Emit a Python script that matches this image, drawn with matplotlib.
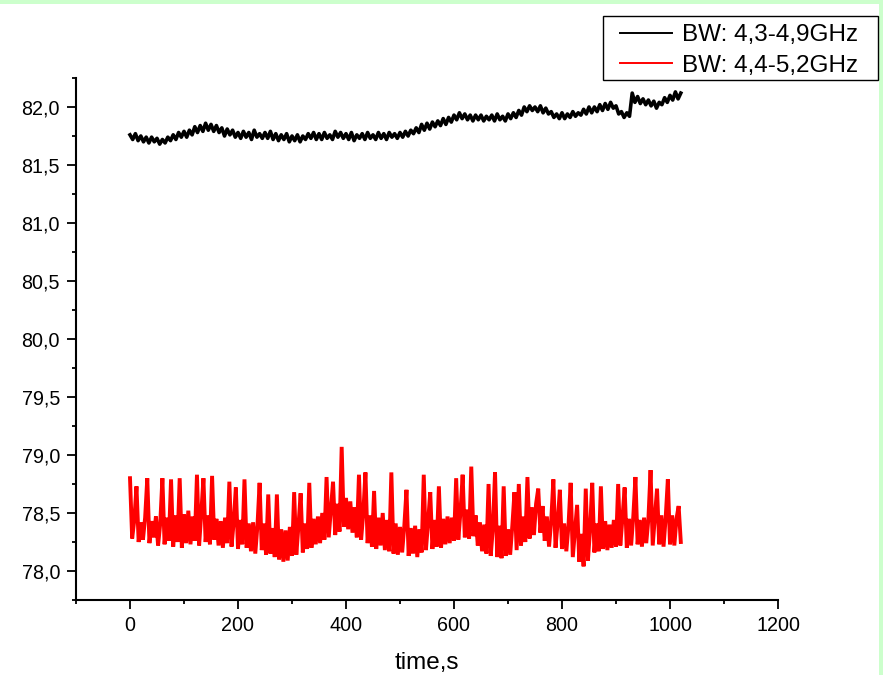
import numpy as np
import matplotlib
matplotlib.use("Agg")
import matplotlib.pyplot as plt
from matplotlib.ticker import MultipleLocator, FuncFormatter
from matplotlib.patches import Rectangle
from matplotlib.lines import Line2D

plt.rcParams['font.family'] = ['Liberation Sans', 'DejaVu Sans']

# ---- data ----
series_labels = ["BW: 4,3-4,9GHz", "BW: 4,4-5,2GHz"]
t_end = 1020  # s

# black series, one sample every 5 s (0..1020 s)
bw1_values = [
    81.76, 81.72, 81.77, 81.71, 81.75, 81.70, 81.74, 81.69, 81.74, 81.70,
    81.73, 81.68, 81.72, 81.69, 81.74, 81.71, 81.76, 81.72, 81.78, 81.74,
    81.79, 81.74, 81.80, 81.76, 81.83, 81.78, 81.84, 81.79, 81.86, 81.80,
    81.85, 81.79, 81.84, 81.78, 81.82, 81.75, 81.81, 81.76, 81.80, 81.74,
    81.78, 81.73, 81.79, 81.74, 81.78, 81.72, 81.80, 81.74, 81.77, 81.73,
    81.78, 81.73, 81.79, 81.72, 81.77, 81.71, 81.76, 81.72, 81.77, 81.70,
    81.75, 81.71, 81.76, 81.70, 81.75, 81.72, 81.77, 81.73, 81.78, 81.72,
    81.77, 81.72, 81.78, 81.73, 81.76, 81.72, 81.79, 81.74, 81.78, 81.73,
    81.77, 81.72, 81.78, 81.71, 81.76, 81.73, 81.77, 81.72, 81.78, 81.73,
    81.76, 81.72, 81.78, 81.73, 81.77, 81.72, 81.78, 81.74, 81.77, 81.73,
    81.78, 81.74, 81.79, 81.75, 81.80, 81.77, 81.82, 81.78, 81.85, 81.80,
    81.86, 81.81, 81.87, 81.83, 81.88, 81.84, 81.90, 81.85, 81.91, 81.87,
    81.93, 81.89, 81.95, 81.90, 81.94, 81.89, 81.93, 81.88, 81.93, 81.89,
    81.93, 81.88, 81.92, 81.89, 81.93, 81.88, 81.94, 81.89, 81.92, 81.88,
    81.94, 81.90, 81.95, 81.91, 81.97, 81.93, 82.00, 81.96, 82.01, 81.97,
    82.00, 81.96, 82.01, 81.95, 81.99, 81.94, 81.96, 81.91, 81.94, 81.90,
    81.95, 81.90, 81.94, 81.91, 81.96, 81.92, 81.95, 81.93, 81.98, 81.94,
    82.00, 81.95, 82.00, 81.96, 82.02, 81.97, 82.03, 81.98, 82.04, 81.99,
    82.01, 81.94, 81.96, 81.91, 81.95, 81.92, 82.12, 82.04, 82.09, 82.03,
    82.07, 82.02, 82.06, 82.01, 82.05, 81.99, 82.04, 82.02, 82.08, 82.04,
    82.10, 82.06, 82.13, 82.07, 82.12,
]

# red series, one sample every 4 s (0..1020 s)
bw2_values = [
    78.80, 78.28, 78.44, 78.73, 78.25, 78.42, 78.27, 78.46,
    78.80, 78.24, 78.43, 78.29, 78.47, 78.22, 78.41, 78.80,
    78.23, 78.46, 78.26, 78.79, 78.21, 78.48, 78.25, 78.80,
    78.20, 78.49, 78.24, 78.52, 78.23, 78.47, 78.26, 78.83,
    78.22, 78.50, 78.80, 78.25, 78.48, 78.23, 78.82, 78.27,
    78.45, 78.22, 78.43, 78.20, 78.46, 78.24, 78.77, 78.21,
    78.42, 78.72, 78.19, 78.44, 78.23, 78.79, 78.20, 78.41,
    78.17, 78.42, 78.15, 78.39, 78.76, 78.18, 78.41, 78.14,
    78.66, 78.15, 78.37, 78.12, 78.66, 78.10, 78.36, 78.08,
    78.35, 78.09, 78.38, 78.13, 78.68, 78.14, 78.39, 78.67,
    78.16, 78.41, 78.19, 78.76, 78.20, 78.45, 78.23, 78.47,
    78.24, 78.50, 78.27, 78.81, 78.29, 78.53, 78.77, 78.31,
    78.58, 78.34, 79.07, 78.38, 78.63, 78.36, 78.60, 78.33,
    78.55, 78.29, 78.83, 78.27, 78.50, 78.85, 78.24, 78.48,
    78.21, 78.69, 78.19, 78.46, 78.22, 78.50, 78.18, 78.44,
    78.17, 78.85, 78.15, 78.41, 78.14, 78.38, 78.16, 78.39,
    78.70, 78.13, 78.37, 78.15, 78.39, 78.12, 78.36, 78.16,
    78.83, 78.18, 78.42, 78.68, 78.19, 78.44, 78.21, 78.73,
    78.20, 78.45, 78.23, 78.47, 78.24, 78.46, 78.26, 78.80,
    78.27, 78.51, 78.83, 78.29, 78.53, 78.28, 78.90, 78.30,
    78.48, 78.22, 78.42, 78.17, 78.40, 78.15, 78.75, 78.13,
    78.37, 78.85, 78.12, 78.39, 78.11, 78.73, 78.13, 78.36,
    78.14, 78.39, 78.68, 78.18, 78.75, 78.22, 78.47, 78.25,
    78.81, 78.28, 78.55, 78.31, 78.58, 78.71, 78.33, 78.56,
    78.26, 78.47, 78.21, 78.43, 78.79, 78.20, 78.42, 78.70,
    78.19, 78.41, 78.17, 78.39, 78.76, 78.12, 78.35, 78.57,
    78.08, 78.32, 78.04, 78.71, 78.09, 78.36, 78.76, 78.16,
    78.41, 78.17, 78.73, 78.19, 78.43, 78.18, 78.40, 78.20,
    78.44, 78.21, 78.75, 78.22, 78.46, 78.72, 78.20, 78.45,
    78.22, 78.47, 78.81, 78.23, 78.44, 78.21, 78.46, 78.24,
    78.45, 78.87, 78.22, 78.47, 78.71, 78.23, 78.48, 78.21,
    78.46, 78.79, 78.23, 78.48, 78.22, 78.45, 78.56, 78.25,
]

x_ticks = [0, 200, 400, 600, 800, 1000, 1200]
y_ticks = [78.0, 78.5, 79.0, 79.5, 80.0, 80.5, 81.0, 81.5, 82.0]
x_label = "time,s"
colors = ['black', '#ff0000']

t1 = np.linspace(0, t_end, len(bw1_values))
t2 = np.linspace(0, t_end, len(bw2_values))

# ---- figure ----
W, H = 883, 675
fig = plt.figure(figsize=(W / 100, H / 100), dpi=100)
fig.patches.append(Rectangle((0, 1 - 4 / H), 1, 4 / H, transform=fig.transFigure,
                             facecolor='#ccffcc', edgecolor='none', zorder=0))
fig.patches.append(Rectangle((1 - 4 / W, 0), 4 / W, 1, transform=fig.transFigure,
                             facecolor='#ccffcc', edgecolor='none', zorder=0))

ax = fig.add_axes([76 / W, 75 / H, (778 - 76) / W, (600 - 78) / H])
ax.plot(t1, bw1_values, color=colors[0], lw=2.6, solid_joinstyle='round')
ax.plot(t2, bw2_values, color=colors[1], lw=2.8, solid_joinstyle='miter')

ax.set_xlim(-100, 1200)
ax.set_ylim(77.75, 82.25)
ax.set_xticks(x_ticks)
ax.set_yticks(y_ticks)
ax.xaxis.set_minor_locator(MultipleLocator(100))
ax.yaxis.set_minor_locator(MultipleLocator(0.25))
ax.yaxis.set_major_formatter(FuncFormatter(lambda v, p: f"{v:.1f}".replace('.', ',')))
ax.xaxis.set_major_formatter(FuncFormatter(lambda v, p: f"{int(round(v))}"))

for s in ['top', 'right']:
    ax.spines[s].set_visible(False)
for s in ['left', 'bottom']:
    ax.spines[s].set_linewidth(1.5)
    ax.spines[s].set_color('black')

ax.tick_params(which='major', direction='out', length=6.5, width=1.3,
               labelsize=14.2, colors='black', pad=5)
ax.tick_params(which='minor', direction='out', length=3.2, width=1.3)

ax.set_xlabel(x_label, fontsize=17.5, labelpad=12)

# legend: frame drawn as a figure rectangle, entries via legend without frame
fig.patches.append(Rectangle((603 / W, 1 - 80 / H), (878 - 603) / W, 64 / H,
                             transform=fig.transFigure, facecolor='white',
                             edgecolor='black', lw=1.0, zorder=5))
handles = [Line2D([], [], color=c, lw=1.4) for c in colors]
leg = fig.legend(handles, series_labels, loc='upper left',
                 bbox_to_anchor=(620 / W, 1 - 24 / H),
                 fontsize=17.5, frameon=False, handlelength=2.15,
                 handletextpad=0.42, borderpad=0, labelspacing=0.35,
                 borderaxespad=0)
leg.set_zorder(6)

fig.savefig("out.png", dpi=100)
